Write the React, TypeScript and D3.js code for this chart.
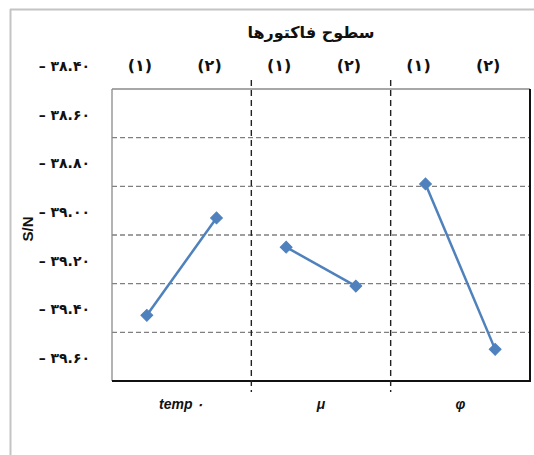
import React from "react";
import * as d3 from "d3";

const factors = ["temp ۰", "μ", "φ"];
const levels = ["(۱)", "(۲)"];
const snValues = [
  [39.33, 38.93],
  [39.05, 39.21],
  [38.79, 39.47],
];
const yTicks = [38.4, 38.6, 38.8, 39.0, 39.2, 39.4, 39.6];
const title = "سطوح فاکتورها";
const yTitle = "S/N";

const W = 534;
const H = 455;
const M = { left: 112, top: 89, right: 530, bottom: 381 };
const BLUE = "#4f81bd";

const toPersian = (s: string) => s.replace(/[0-9]/g, (d) => "۰۱۲۳۴۵۶۷۸۹"[+d]);

export default function App() {
  const keys = factors.flatMap((f, i) => levels.map((_, j) => `${i}-${j}`));
  const x = d3.scaleBand<string>().domain(keys).range([M.left, M.right]).padding(0);
  const cx = (i: number, j: number) => (x(`${i}-${j}`) as number) + x.bandwidth() / 2;
  const y = d3.scaleLinear().domain([38.4, 39.6]).range([M.top, M.bottom]);
  const line = d3
    .line<[number, number]>()
    .x((d) => d[0])
    .y((d) => d[1]);
  const diamond = d3.symbol().type(d3.symbolSquare).size(70)() as string;
  const separators = factors.slice(1).map((_, i) => (x(`${i + 1}-0`) as number));
  const labelFont = "'DejaVu Sans', sans-serif";

  return (
    <svg width={W} height={H} style={{ position: "absolute", left: 0, top: 0, background: "#fff" }}>
      <rect x={0} y={0} width={W} height={H} fill="#fff" />
      {/* outer frame */}
      <line x1={10.5} x2={10.5} y1={9} y2={H} stroke="#c4c4c4" strokeWidth={2} />
      <line x1={10} x2={W} y1={9.5} y2={9.5} stroke="#c4c4c4" strokeWidth={2} />

      {/* title */}
      <text x={311} y={38} textAnchor="middle" fontFamily={labelFont} fontWeight="bold" fontSize={16} fill="#111">
        {title}
      </text>

      {/* horizontal gridlines */}
      {yTicks.slice(1, -1).map((t) => (
        <line key={t} x1={M.left} x2={M.right} y1={y(t)} y2={y(t)} stroke="#808080" strokeWidth={1.3} strokeDasharray="5,3" />
      ))}

      {/* plot frame */}
      <line x1={M.left} x2={M.right} y1={M.top} y2={M.top} stroke="#8a8a8a" strokeWidth={1.3} />
      <line x1={M.left} x2={M.left} y1={M.top} y2={M.bottom} stroke="#8a8a8a" strokeWidth={1.3} />
      <line x1={M.left} x2={M.right + 1} y1={M.bottom} y2={M.bottom} stroke="#111" strokeWidth={2} />
      <line x1={M.right} x2={M.right} y1={M.top} y2={M.bottom} stroke="#111" strokeWidth={2} />

      {/* group separators */}
      {separators.map((sx, i) => (
        <line key={i} x1={sx} x2={sx} y1={M.top - 9} y2={M.bottom + 11} stroke="#222" strokeWidth={1.4} strokeDasharray="6,4" />
      ))}

      {/* y tick labels */}
      {yTicks.map((t) => (
        <text key={t} x={90} y={y(t) - 23} dy="0.35em" textAnchor="end" fontFamily={labelFont} fontWeight="bold" fontSize={14} fill="#111">
          {"– " + toPersian(t.toFixed(2))}
        </text>
      ))}

      {/* y title */}
      <text
        transform={`translate(33,229) rotate(-90)`}
        textAnchor="middle"
        fontFamily="'Liberation Sans', sans-serif"
        fontWeight="bold"
        fontSize={15}
        fill="#111"
      >
        {yTitle}
      </text>

      {/* level labels on top */}
      {factors.map((_, i) =>
        levels.map((lv, j) => (
          <text key={`${i}-${j}`} x={cx(i, j) - 7} y={65} dy="0.35em" textAnchor="middle" fontFamily={labelFont} fontWeight="bold" fontSize={16} fill="#111">
            {lv}
          </text>
        ))
      )}

      {/* factor labels at bottom */}
      {factors.map((f, i) => (
        <text
          key={f}
          x={(cx(i, 0) + cx(i, 1)) / 2}
          y={409}
          textAnchor="middle"
          fontFamily="'Liberation Sans', sans-serif"
          fontStyle="italic"
          fontWeight="bold"
          fontSize={14}
          fill="#111"
        >
          {f}
        </text>
      ))}

      {/* series */}
      {snValues.map((vals, i) => {
        const pts = vals.map((v, j) => [cx(i, j), y(v)] as [number, number]);
        return (
          <g key={i}>
            <path d={line(pts) as string} fill="none" stroke={BLUE} strokeWidth={2.5} />
            {pts.map((p, j) => (
              <path key={j} d={diamond} transform={`translate(${p[0]},${p[1]}) rotate(45)`} fill={BLUE} stroke={BLUE} strokeWidth={1} />
            ))}
          </g>
        );
      })}
    </svg>
  );
}
